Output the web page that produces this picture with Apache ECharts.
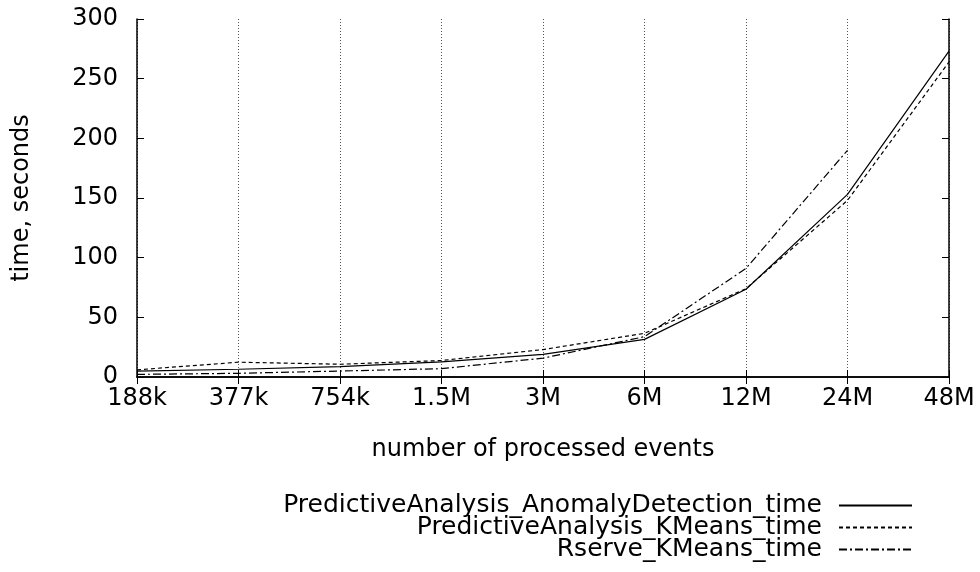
<!DOCTYPE html>
<html>
<head>
<meta charset="utf-8">
<script src="https://cdn.jsdelivr.net/npm/echarts@6/dist/echarts.min.js"></script>
<style>
  html, body { margin: 0; padding: 0; background: #fff; }
  #chart { width: 980px; height: 572px; }
</style>
</head>
<body>
<div id="chart"></div>
<script>
// number of processed events
const categories = ['188k', '377k', '754k', '1.5M', '3M', '6M', '12M', '24M', '48M'];
const anomalyTime = [5, 6.5, 8.7, 12.7, 19, 31.5, 73.5, 153, 273];
const kmeansTime = [6, 12.4, 10.7, 13.8, 23, 36.6, 74, 148, 264];
const rserveTime = [2.2, 3.1, 5, 7, 15.8, 33.8, 91, 190, null];
const yTicks = [0, 50, 100, 150, 200, 250, 300];

const seriesNames = [
    'PredictiveAnalysis_AnomalyDetection_time',
    'PredictiveAnalysis_KMeans_time',
    'Rserve_KMeans_time'
];

const fontFam = '"DejaVu Sans", sans-serif';
const fontSz = 24;
let chart = echarts.init(document.getElementById('chart'));

function legendRow(name, top) {
    return {
        data: [name],
        right: 62,
        top: top,
        align: 'right',
        itemWidth: 73,
        itemHeight: 14,
        itemGap: 0,
        selectedMode: false,
        itemStyle: { opacity: 0 },
        textStyle: { fontFamily: fontFam, fontSize: 25, color: '#000', padding: [0, 12, 0, 0] }
    };
}

function lineSeries(name, data, dash) {
    return {
        name: name,
        type: 'line',
        data: data,
        symbol: 'none',
        showSymbol: false,
        connectNulls: false,
        animation: false,
        lineStyle: { color: '#000', width: 1.2, type: dash },
        itemStyle: { color: '#000' }
    };
}

let option = {
    backgroundColor: '#fff',
    animation: false,
    grid: { left: 137, right: 31, top: 19, bottom: 195 },
    legend: [
        legendRow(seriesNames[0], 488),
        legendRow(seriesNames[1], 510),
        legendRow(seriesNames[2], 532)
    ],
    xAxis: [{
        type: 'category',
        data: categories,
        boundaryGap: false,
        name: 'number of processed events',
        nameLocation: 'middle',
        nameGap: 61,
        nameTextStyle: { fontFamily: fontFam, fontSize: fontSz, color: '#000' },
        axisLine: { lineStyle: { color: '#000', width: 1.5 } },
        axisTick: { inside: true, length: 7, lineStyle: { color: '#000' } },
        axisLabel: { fontFamily: fontFam, fontSize: fontSz, color: '#000', margin: 10 },
        splitLine: { show: true, lineStyle: { color: '#555', type: [1, 2], width: 1 } }
    }, {
        type: 'category',
        data: categories,
        boundaryGap: false,
        position: 'top',
        axisLine: { lineStyle: { color: '#000', width: 1.5 } },
        axisTick: { inside: true, length: 7, lineStyle: { color: '#000' } },
        axisLabel: { show: false },
        splitLine: { show: false }
    }],
    yAxis: [{
        type: 'value',
        min: yTicks[0],
        max: yTicks[yTicks.length - 1],
        interval: 50,
        name: 'time, seconds',
        nameLocation: 'middle',
        nameGap: 103,
        nameTextStyle: { fontFamily: fontFam, fontSize: fontSz, color: '#000' },
        axisLine: { show: true, lineStyle: { color: '#000', width: 1.5 } },
        axisTick: { show: true, inside: true, length: 7, lineStyle: { color: '#000' } },
        axisLabel: { fontFamily: fontFam, fontSize: fontSz, color: '#000', margin: 19 },
        splitLine: { show: false }
    }, {
        type: 'value',
        min: yTicks[0],
        max: yTicks[yTicks.length - 1],
        interval: 50,
        position: 'right',
        axisLine: { show: true, lineStyle: { color: '#000', width: 1.5 } },
        axisTick: { show: true, inside: true, length: 7, lineStyle: { color: '#000' } },
        axisLabel: { show: false },
        splitLine: { show: false }
    }],
    series: [
        lineSeries(seriesNames[0], anomalyTime, 'solid'),
        lineSeries(seriesNames[1], kmeansTime, [4, 3]),
        lineSeries(seriesNames[2], rserveTime, [8, 3, 2, 3])
    ]
};

chart.setOption(option);
</script>
</body>
</html>
